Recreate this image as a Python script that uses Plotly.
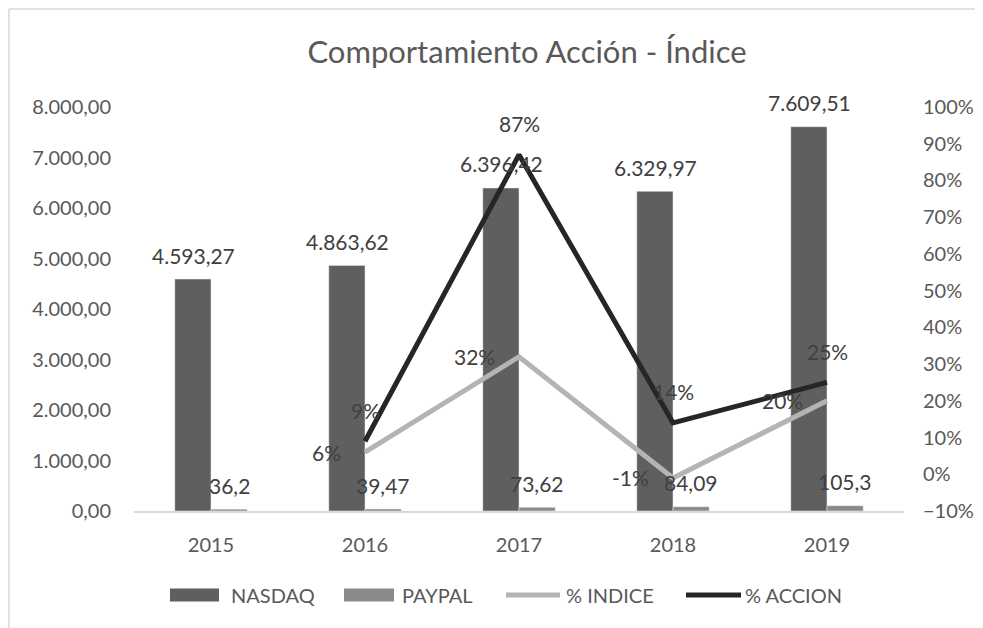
import plotly.graph_objects as go

years = ["2015", "2016", "2017", "2018", "2019"]
nasdaq = [4593.27, 4863.62, 6396.42, 6329.97, 7609.51]
paypal = [36.2, 39.47, 73.62, 84.09, 105.3]
pct_indice = [None, 0.06, 0.32, -0.01, 0.20]
pct_accion = [None, 0.09, 0.87, 0.14, 0.25]
series_names = ["NASDAQ", "PAYPAL", "% INDICE", "% ACCION"]

C_NASDAQ = "#5f5f5f"
C_PAYPAL = "#8a8a8a"
C_INDICE = "#b4b4b4"
C_ACCION = "#262626"
TXT = "#595959"
LBL = "#404040"
FONT = "Lato"
LBL_SIZE = 21
TICK_SIZE = 20

# plot area in screenshot pixels (page has an 8px body offset)
PL, PR, PT, PB = 134, 904, 107, 511
PW, PH = PR - PL, PB - PT

def px(x):
    return (x - PL) / PW

def py(y):
    return (PB - y) / PH

def fmt_num(v):
    return format(v, "g").replace(".", ",")

def fmt_thousands(v):
    s = f"{v:,.2f}"
    return s.replace(",", "X").replace(".", ",").replace("X", ".")

def fmt_pct(v):
    return f"{round(v * 100):.0f}%"

fig = go.Figure()
fig.add_trace(go.Bar(x=years, y=nasdaq, name=series_names[0],
                     marker_color=C_NASDAQ, showlegend=False))
fig.add_trace(go.Bar(x=years, y=paypal, name=series_names[1],
                     marker_color=C_PAYPAL, showlegend=False))
fig.add_trace(go.Scatter(x=years, y=pct_indice, name=series_names[2], yaxis="y2",
                         mode="lines", line=dict(color=C_INDICE, width=5),
                         showlegend=False))
fig.add_trace(go.Scatter(x=years, y=pct_accion, name=series_names[3], yaxis="y2",
                         mode="lines", line=dict(color=C_ACCION, width=5),
                         showlegend=False))

# data labels (x given as category index on the category axis)
ann = []
lf = dict(family=FONT, size=LBL_SIZE, color=LBL)
for i, v in enumerate(nasdaq):
    ann.append(dict(x=i, y=v, xref="x", yref="y", text=fmt_thousands(v),
                    showarrow=False, xshift=-18, yshift=24, yanchor="middle",
                    font=lf))
for i, v in enumerate(paypal):
    ann.append(dict(x=i, y=v, xref="x", yref="y", text=fmt_num(v),
                    showarrow=False, xshift=18, yshift=24, yanchor="middle",
                    font=lf))
for i, v in enumerate(pct_indice):
    if v is None:
        continue
    ann.append(dict(x=i, y=v, xref="x", yref="y2", text=fmt_pct(v),
                    showarrow=False, xshift=-22, xanchor="right",
                    yanchor="middle", font=lf))
for i, v in enumerate(pct_accion):
    if v is None:
        continue
    ann.append(dict(x=i, y=v, xref="x", yref="y2", text=fmt_pct(v),
                    showarrow=False, yshift=31, yanchor="middle", font=lf))

# manual Excel-style legend
LEG_Y = 595
leg_items = [
    ("rect", C_NASDAQ, 170, 219, 229),
    ("rect", C_PAYPAL, 344, 394, 400),
    ("line", C_INDICE, 506, 560, 564),
    ("line", C_ACCION, 686, 741, 743),
]
shapes = []
for (kind, col, x0, x1, tx), nm in zip(leg_items, series_names):
    if kind == "rect":
        shapes.append(dict(type="rect", xref="paper", yref="paper",
                           x0=px(x0), x1=px(x1), y0=py(LEG_Y + 6.5), y1=py(LEG_Y - 6.5),
                           fillcolor=col, line=dict(width=0)))
    else:
        shapes.append(dict(type="line", xref="paper", yref="paper",
                           x0=px(x0), x1=px(x1), y0=py(LEG_Y), y1=py(LEG_Y),
                           line=dict(color=col, width=5)))
    ann.append(dict(x=px(tx), y=py(LEG_Y), xref="paper", yref="paper", text=nm,
                    showarrow=False, xanchor="left", yanchor="middle",
                    font=dict(family=FONT, size=TICK_SIZE, color=TXT)))

# chart area border (top and left visible)
shapes.append(dict(type="line", xref="paper", yref="paper",
                   x0=px(9), x1=px(1000), y0=py(9), y1=py(9),
                   line=dict(color="#d9d9d9", width=1.5)))
shapes.append(dict(type="line", xref="paper", yref="paper",
                   x0=px(9), x1=px(9), y0=py(9), y1=py(640),
                   line=dict(color="#d9d9d9", width=1.5)))

fig.update_layout(
    width=983, height=628,
    margin=dict(l=PL - 8, r=983 - (PR - 8), t=PT - 8, b=628 - (PB - 8), autoexpand=False),
    paper_bgcolor="white", plot_bgcolor="white",
    separators=",.",
    font=dict(family=FONT, color=TXT, size=TICK_SIZE),
    barmode="group", bargap=0.53, bargroupgap=0,
    title=dict(text="Comportamiento Acción - Índice", x=(527 - 8) / 983, xanchor="center",
               xref="container", y=1 - (52 - 8) / 628, yanchor="middle",
               font=dict(size=31, color=TXT, family=FONT)),
    xaxis=dict(type="category", range=[-0.5, len(years) - 0.5], showgrid=False,
               showline=True, linecolor="#d9d9d9",
               linewidth=1.5, ticks="", ticklabelstandoff=15, tickangle=0,
               tickfont=dict(size=TICK_SIZE, color=TXT)),
    yaxis=dict(range=[0, 8000], dtick=1000, tickformat=",.2f", showgrid=False,
               showline=False, zeroline=False, ticklabelstandoff=22,
               tickfont=dict(size=TICK_SIZE, color=TXT)),
    yaxis2=dict(range=[-0.1, 1.0], dtick=0.1, tickformat=".0%", overlaying="y",
                side="right", showgrid=False, showline=False, zeroline=False,
                ticklabelstandoff=18, tickfont=dict(size=TICK_SIZE, color=TXT)),
    showlegend=False,
    annotations=ann,
    shapes=shapes,
)

fig.write_html("out.html")
